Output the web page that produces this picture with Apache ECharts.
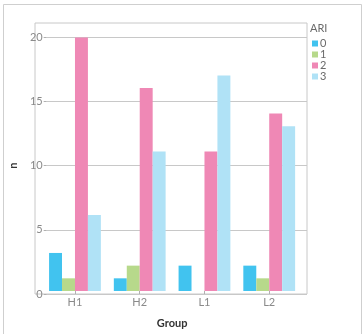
<!DOCTYPE html>
<html><head><meta charset="utf-8">
<script src="https://cdn.jsdelivr.net/npm/echarts@6/dist/echarts.min.js"></script>
<style>html,body{margin:0;padding:0;background:#fff}#c{width:363px;height:334px}</style>
</head><body><div id="c"></div>
<script>
var categories = ['H1', 'H2', 'L1', 'L2'];
var ariLevels = ['0', '1', '2', '3'];
var ari0 = [3, 1, 2, 2];
var ari1 = [1, 2, 0, 1];
var ari2 = [20, 16, 11, 14];
var ari3 = [6, 11, 17, 13];
var yTicks = [0, 5, 10, 15, 20];
var colors = ['#41c3ef', '#b7d98b', '#ef88b5', '#b0e2f6'];
var seriesValues = [ari0, ari1, ari2, ari3];

var FONT = 'Lato';
var chart = echarts.init(document.getElementById('c'), null, {renderer: 'canvas'});
var series = ariLevels.map(function (name, i) {
  return {
    name: name, type: 'bar', xAxisIndex: 2, yAxisIndex: 2,
    data: seriesValues[i], barGap: '0%', barCategoryGap: '20%',
    itemStyle: {color: colors[i]}, emphasis: {disabled: true}
  };
});
chart.setOption({
  animation: false,
  textStyle: {fontFamily: FONT},
  graphic: [{
    type: 'rect', shape: {x: 3.5, y: 4.5, width: 358, height: 340},
    style: {fill: 'none', stroke: '#cfcfcf', lineWidth: 1}, z: -1
  }],
  title: {text: 'ARI', left: 310, top: 23, padding: 0,
    textStyle: {fontSize: 11, fontWeight: 'normal', color: '#6a6a6a', fontFamily: FONT}},
  legend: {
    data: ariLevels, orient: 'vertical', left: 312, top: 38, padding: 0,
    itemWidth: 6, itemHeight: 6, itemGap: 0, icon: 'rect',
    textStyle: {fontSize: 11, color: '#6a6a6a', lineHeight: 10, padding: [0, 0, 0, -3], fontFamily: FONT},
    selectedMode: false
  },
  grid: [
    {left: 35, right: 56, top: 23, bottom: 40, show: true, borderColor: '#c8c8c8', borderWidth: 1, backgroundColor: 'transparent'},
    {left: 35, right: 56, top: 37.4, bottom: 40},
    {left: 42.6, right: 61.4, top: 37.4, bottom: 40}
  ],
  xAxis: [
    {gridIndex: 0, type: 'value', show: false, min: 0, max: 1},
    {gridIndex: 1, type: 'value', show: false, min: 0, max: 1},
    {gridIndex: 2, type: 'category', data: categories,
      axisLine: {show: false},
      axisTick: {show: true, alignWithLabel: true, length: 3, lineStyle: {color: '#b0b0b0'}},
      axisLabel: {fontSize: 11, color: '#8a8a8a', margin: 6, fontFamily: FONT},
      name: 'Group', nameLocation: 'middle', nameGap: 27,
      nameTextStyle: {fontSize: 11, color: '#333', fontWeight: 'bold', fontFamily: FONT}}
  ],
  yAxis: [
    {gridIndex: 0, type: 'value', show: false, min: 0, max: 1},
    {gridIndex: 1, type: 'value', min: 0, max: 20, interval: 5,
      axisLine: {show: false},
      axisTick: {show: true, length: 3, lineStyle: {color: '#b0b0b0'}},
      axisLabel: {fontSize: 11, color: '#8a8a8a', margin: 4, fontFamily: FONT},
      splitLine: {show: true, lineStyle: {color: '#c8c8c8', width: 1}},
      name: 'n', nameLocation: 'middle', nameGap: 20, nameRotate: 90,
      nameTextStyle: {fontSize: 11, color: '#333', fontWeight: 'bold', fontFamily: FONT}},
    {gridIndex: 2, type: 'value', min: 0, max: 20, show: false}
  ],
  series: series
});
</script></body></html>
